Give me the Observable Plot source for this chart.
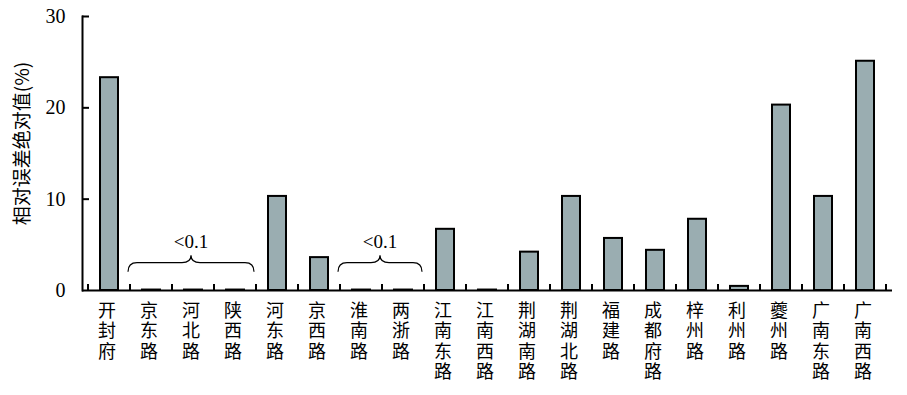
<!DOCTYPE html>
<html>
<head>
<meta charset="utf-8">
<script src="https://cdn.jsdelivr.net/npm/d3@7"></script>
<script src="https://cdn.jsdelivr.net/npm/@observablehq/plot@0.6"></script>
<style>
  html, body { margin: 0; padding: 0; background: #fff; }
  #chart svg { display: block; }
</style>
</head>
<body>
<div id="chart"></div>
<script>
const categories = ["开封府", "京东路", "河北路", "陕西路", "河东路", "京西路", "淮南路", "两浙路", "江南东路", "江南西路", "荆湖南路", "荆湖北路", "福建路", "成都府路", "梓州路", "利州路", "夔州路", "广南东路", "广南西路"];
const values = [23.3, 0.05, 0.05, 0.05, 10.3, 3.6, 0.05, 0.05, 6.7, 0.05, 4.2, 10.3, 5.7, 4.4, 7.8, 0.45, 20.3, 10.3, 25.1];
const yTicks = [0, 10, 20, 30];
const yLabel = "相对误差绝对值(%)";
const braces = [
  {from: "京东路", to: "陕西路", label: "<0.1"},
  {from: "淮南路", to: "两浙路", label: "<0.1"}
];

const data = categories.map((c, i) => ({category: c, value: values[i]}));
const cjk = "'Noto Sans CJK SC', sans-serif";
const serif = "'Liberation Serif', 'DejaVu Serif', serif";

function bandBounds(x) {
  const step = x.step ? x.step() : 0;
  const bw = x.bandwidth ? x.bandwidth() : 0;
  return c => [x(c) - (step - bw) / 2, x(c) - (step - bw) / 2 + step];
}

function xTickMark(index, scales) {
  const x = scales.x, y = scales.y;
  const bb = bandBounds(x);
  const pos = categories.map(c => bb(c)[0]);
  pos.push(bb(categories[categories.length - 1])[1]);
  const y0 = y(0);
  const g = d3.create("svg:g");
  g.selectAll("line").data(pos).join("line")
    .attr("x1", d => d).attr("x2", d => d)
    .attr("y1", y0).attr("y2", y0 - 6)
    .attr("stroke", "black").attr("stroke-width", 2);
  return g.node();
}

function xLabelMark(index, scales) {
  const x = scales.x, y = scales.y;
  const bw = x.bandwidth ? x.bandwidth() : 0;
  const g = d3.create("svg:g");
  g.selectAll("text").data(categories).join("text")
    .attr("x", d => x(d) + bw / 2 - 2)
    .attr("y", y(0) + 11)
    .attr("text-anchor", "start")
    .style("writing-mode", "vertical-rl")
    .style("text-orientation", "upright")
    .style("letter-spacing", "2.5px")
    .attr("font-family", cjk).attr("font-size", 18).attr("fill", "black")
    .text(d => d);
  return g.node();
}

function braceMark(index, scales) {
  const x = scales.x, y = scales.y;
  const bb = bandBounds(x);
  const g = d3.create("svg:g");
  const yb = y(2.0), ym = y(3.0), yp = y(3.8), yt = y(4.6);
  for (const b of braces) {
    const x0 = bb(b.from)[0] - 2, x1 = bb(b.to)[1] - 2;
    const xc = (x0 + x1) / 2, r = 9;
    const path = `M${x0},${yb}Q${x0},${ym} ${x0 + r},${ym}L${xc - r},${ym}Q${xc},${ym} ${xc},${yp}Q${xc},${ym} ${xc + r},${ym}L${x1 - r},${ym}Q${x1},${ym} ${x1},${yb}`;
    g.append("path").attr("d", path).attr("fill", "none").attr("stroke", "black").attr("stroke-width", 1.2);
    g.append("text").attr("x", xc).attr("y", yt).attr("text-anchor", "middle")
      .attr("font-family", serif).attr("font-size", 19).attr("fill", "black").text(b.label);
  }
  return g.node();
}

const chart = Plot.plot({
  width: 907,
  height: 395,
  marginLeft: 82,
  marginRight: 15,
  marginTop: 16,
  marginBottom: 105,
  style: {background: "#fff", color: "black"},
  x: {domain: categories, paddingInner: 0.58, paddingOuter: 0.29, axis: null},
  y: {domain: [0, 30], axis: null},
  marks: [
    Plot.barY(data, {x: "category", y: "value", fill: "#9aadb1", stroke: "black", strokeWidth: 2}),
    Plot.axisY(yTicks, {tickSize: 0, tickPadding: 17, fontSize: 20, fontFamily: serif, label: null}),
    Plot.tickY(yTicks.filter(d => d > 0), {y: d => d, stroke: "black", strokeWidth: 2, insetRight: 803}),
    Plot.frame({anchor: "left", stroke: "black", strokeWidth: 2}),
    Plot.ruleY([0], {stroke: "black", strokeWidth: 2}),
    xTickMark,
    braceMark,
    xLabelMark,
    Plot.text([yLabel], {frameAnchor: "left", text: d => d, rotate: -90, textAnchor: "middle", dx: -60, dy: -10, fontSize: 19, fontFamily: cjk, fill: "black"})
  ]
});
document.getElementById("chart").appendChild(chart);
</script>
</body>
</html>
